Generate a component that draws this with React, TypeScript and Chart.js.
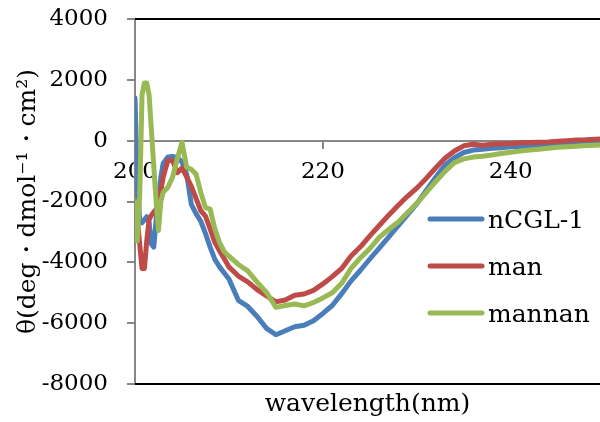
import React, { useEffect, useRef } from "react";
import { Chart, registerables } from "chart.js";

Chart.register(...registerables);

const wavelengths = [
  200, 200.25, 200.5, 200.75, 201, 201.25, 201.5, 201.75, 202, 202.25, 202.5, 202.75, 203,
  203.5, 204, 204.5, 205, 205.5, 206, 206.5, 207, 207.5, 208, 208.5, 209, 209.5, 210,
  211, 212, 213, 214, 215, 216, 217, 218, 219, 220, 221, 222, 223, 224, 225, 226, 227, 228, 229, 230,
  231, 232, 233, 234, 235, 236, 237, 238, 239, 240, 241, 242, 243, 244, 245, 246, 247, 248, 249, 250,
];

const nCGL1 = [
  1400, -1500, -2600, -2700, -2600, -2500, -2700, -3400, -3500, -2600, -1900, -1200, -750,
  -540, -520, -560, -700, -1100, -2100, -2400, -2650, -3050, -3500, -3900, -4150, -4350, -4550,
  -5250, -5450, -5780, -6170, -6380, -6250, -6120, -6070, -5920, -5680, -5420, -5030, -4610, -4260, -3890, -3530, -3170, -2800, -2440, -2070,
  -1640, -1210, -810, -560, -390, -310, -280, -250, -230, -200, -190, -170, -150, -120, -100, -90, -70, -60, -40, -30,
];

const man = [
  -2300, -2600, -3400, -4200, -4200, -3300, -2600, -2450, -2350, -2250, -1950, -1650, -1200,
  -650, -650, -1050, -900, -1190, -1500, -1900, -2300, -2480, -2900, -3350, -3620, -3880, -4150,
  -4450, -4640, -4900, -5100, -5300, -5240, -5080, -5040, -4920, -4710, -4470, -4200, -3790, -3490, -3130, -2790, -2450, -2130, -1830, -1560,
  -1240, -900, -580, -340, -170, -120, -150, -120, -100, -100, -70, -60, -50, -40, -20, 0, 20, 30, 50, 60,
];

const mannan = [
  -2000, -3300, -1800, 1500, 1900, 1900, 1500, 330, -850, -2000, -2950, -2000, -1700,
  -1530, -1200, -600, -50, -870, -950, -1100, -1700, -2200, -2250, -2900, -3350, -3650, -3800,
  -4070, -4280, -4650, -4990, -5480, -5420, -5370, -5430, -5320, -5170, -5000, -4690, -4200, -3850, -3550, -3180, -2920, -2680, -2370, -2060,
  -1710, -1350, -1010, -720, -600, -540, -510, -470, -420, -380, -340, -310, -280, -250, -220, -200, -180, -160, -150, -140,
];

const seriesNames = ["nCGL-1", "man", "mannan"];
const seriesColors = ["#4A7EBB", "#BE4B48", "#98B954"];
const xTickValues = [200, 220, 240];
const yTitle = "θ(deg・dmol⁻¹・cm²)";
const xTitle = "wavelength(nm)";

const SERIF = "'DejaVu Serif', serif";

const overlayPlugin = {
  id: "overlayPlugin",
  afterDatasetsDraw(chart: any) {
    const { ctx, chartArea } = chart;
    ctx.save();
    // plot-area frame: black top and bottom edges
    ctx.fillStyle = "#000000";
    const w = chart.width - chartArea.left;
    ctx.fillRect(chartArea.left, chartArea.top - 1, w, 2);
    ctx.fillRect(chartArea.left, chartArea.bottom - 1, w, 2);

    // legend inside plot
    const x0 = chartArea.right - 170;
    const y0 = chartArea.top + 200;
    const gap = 47;
    chart.data.datasets.forEach((ds: any, i: number) => {
      const y = y0 + i * gap;
      ctx.strokeStyle = ds.borderColor;
      ctx.lineWidth = 5;
      ctx.lineCap = "round";
      ctx.beginPath();
      ctx.moveTo(x0, y);
      ctx.lineTo(x0 + 52, y);
      ctx.stroke();
      ctx.fillStyle = "#000";
      ctx.font = `25px ${SERIF}`;
      ctx.textBaseline = "middle";
      ctx.textAlign = "left";
      ctx.fillText(ds.label, x0 + 58, y + 2);
    });
    ctx.restore();
  },
};

export default function App() {
  const ref = useRef<HTMLCanvasElement | null>(null);

  useEffect(() => {
    if (!ref.current) return;
    const seriesData = [nCGL1, man, mannan];
    const chart = new Chart(ref.current, {
      type: "line",
      data: {
        datasets: seriesData.map((vals, i) => ({
          label: seriesNames[i],
          data: wavelengths.map((w, j) => ({ x: w, y: vals[j] })),
          borderColor: seriesColors[i],
          backgroundColor: seriesColors[i],
          borderWidth: 5,
          pointRadius: 0,
          tension: 0,
          borderCapStyle: "round",
          borderJoinStyle: "round",
          order: 2 - i,
        })),
      },
      options: {
        responsive: false,
        animation: false,
        events: [],
        layout: { padding: { top: 19, left: 0, right: 0, bottom: 0 } },
        plugins: {
          legend: { display: false },
          tooltip: { enabled: false },
        },
        scales: {
          x: {
            type: "linear",
            axis: "x",
            min: 200,
            max: 249.5,
            position: { y: 0 } as any,
            afterBuildTicks: (s: any) => {
              s.ticks = xTickValues.map((v) => ({ value: v }));
            },
            ticks: {
              font: { family: SERIF, size: 23 },
              color: "#000",
              padding: 11,
              maxRotation: 0,
              callback: (v: any) => String(v),
            },
            grid: {
              drawOnChartArea: false,
              drawTicks: true,
              tickLength: 7,
              color: "#878787",
              lineWidth: 2,
            },
            border: { display: true, color: "#878787", width: 2 },
          },
          xBottom: {
            type: "linear",
            axis: "x",
            position: "bottom",
            min: 200,
            max: 249.5,
            grid: { display: false, drawTicks: false },
            ticks: { display: false },
            border: { display: false },
            title: {
              display: true,
              text: xTitle,
              font: { family: SERIF, size: 25 },
              color: "#000",
              padding: { top: 0, bottom: 3 },
            },
            afterFit: (s: any) => {
              s.height = 38;
              s.paddingLeft = 0;
              s.paddingRight = 0;
            },
          },
          y: {
            type: "linear",
            min: -8000,
            max: 4000,
            ticks: {
              stepSize: 2000,
              font: { family: SERIF, size: 23 },
              color: "#000",
              padding: 19,
              callback: (v: any) => String(v),
            },
            grid: {
              drawOnChartArea: false,
              drawTicks: true,
              tickLength: 8,
              color: "#878787",
              lineWidth: 2,
            },
            border: { display: true, color: "#878787", width: 2 },
            title: {
              display: true,
              text: yTitle,
              font: { family: SERIF, size: 25 },
              color: "#000",
              padding: { top: 13, bottom: 0 },
            },
            afterFit: (s: any) => {
              s.width = 135;
              s.paddingTop = 0;
              s.paddingBottom = 0;
            },
          },
        },
      },
      plugins: [overlayPlugin],
    });
    return () => chart.destroy();
  }, []);

  return (
    <div style={{ position: "absolute", left: 0, top: 0, width: 600, height: 422, background: "#fff" }}>
      <canvas ref={ref} width={600} height={422} style={{ display: "block" }} />
    </div>
  );
}
